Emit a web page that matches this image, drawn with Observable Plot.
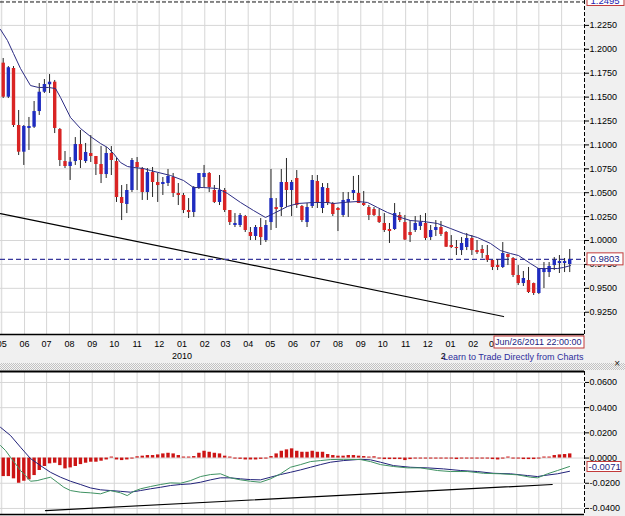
<!DOCTYPE html>
<html><head><meta charset="utf-8">
<script src="https://cdn.jsdelivr.net/npm/d3@7"></script>
<script src="https://cdn.jsdelivr.net/npm/@observablehq/plot@0.6"></script>
<style>
html,body{margin:0;padding:0;background:#f0f0f0;width:625px;height:516px;overflow:hidden;font-family:"Liberation Sans",Arial,sans-serif;}
#top svg,#bottom svg{display:block;}
#sep{height:7px;position:relative;background-image:repeating-conic-gradient(#c2c2c2 0 25%, #f4f4f4 0 50%);background-size:2px 2px;}
#sep span{position:absolute;right:5px;top:-5px;font-size:10px;line-height:12px;color:#222;}
</style></head><body>
<div id="top"></div><div id="sep"><span>×</span></div><div id="bottom"></div>
<script>
// ---------- data ----------
const startWeek = "2009-05-03";           // first weekly candle
const open = [1.1855,1.1499,1.1799,1.1203,1.0924,1.1172,1.1185,1.1349,1.1551,1.1629,
1.1656,1.1161,1.0826,1.0774,1.0826,1.1004,1.0826,1.0910,1.0879,1.0795,
1.0690,1.0910,1.0826,1.0450,1.0377,1.0523,1.0816,1.0753,1.0502,1.0711,
1.0607,1.0586,1.0596,1.0659,1.0492,1.0471,1.0314,1.0293,1.0554,1.0659,
1.0701,1.0523,1.0398,1.0523,1.0314,1.0157,1.0157,1.0251,1.0084,1.0042,
1.0136,1.0000,1.0188,1.0345,1.0345,1.0607,1.0523,1.0649,1.0356,1.0188,
1.0356,1.0617,1.0335,1.0544,1.0387,1.0335,1.0262,1.0398,1.0492,1.0492,
1.0387,1.0345,1.0324,1.0251,1.0178,1.0115,1.0115,1.0262,1.0188,1.0084,
1.0105,1.0147,1.0178,1.0031,1.0105,1.0136,1.0084,0.9948,0.9927,0.9895,
0.9927,1.0021,0.9895,0.9906,0.9843,0.9791,0.9738,0.9718,0.9854,0.9812,
0.9634,0.9550,0.9582,0.9550,0.9446,0.9665,0.9665,0.9738,0.9759,0.9759,
0.9749];
const high = [1.1904,1.1820,1.1820,1.1360,1.1203,1.1287,1.1454,1.1642,1.1684,1.1736,
1.1674,1.1172,1.0931,1.0868,1.1077,1.1151,1.1015,1.1098,1.0879,1.0983,
1.0973,1.0983,1.0858,1.0575,1.0586,1.0858,1.0868,1.0764,1.0753,1.0764,
1.0701,1.0659,1.0743,1.0701,1.0596,1.0492,1.0439,1.0565,1.0701,1.0785,
1.0711,1.0575,1.0680,1.0544,1.0314,1.0282,1.0282,1.0262,1.0136,1.0157,
1.0230,1.0209,1.0743,1.0439,1.0743,1.0858,1.0628,1.0732,1.0366,1.0387,
1.0680,1.0680,1.0596,1.0596,1.0398,1.0345,1.0502,1.0502,1.0670,1.0680,
1.0513,1.0366,1.0345,1.0324,1.0282,1.0178,1.0387,1.0293,1.0262,1.0209,
1.0251,1.0262,1.0282,1.0157,1.0209,1.0199,1.0094,1.0052,1.0000,1.0031,
1.0073,1.0052,1.0000,0.9948,0.9948,0.9795,0.9801,0.9979,0.9858,0.9822,
0.9738,0.9676,0.9718,0.9555,0.9707,0.9770,0.9770,0.9822,0.9843,0.9812,
0.9906];
const low = [1.1485,1.1485,1.1182,1.0889,1.0785,1.0942,1.1172,1.1308,1.1538,1.1538,
1.1119,1.0774,1.0753,1.0628,1.0785,1.0753,1.0806,1.0816,1.0680,1.0596,
1.0649,1.0680,1.0398,1.0209,1.0282,1.0502,1.0523,1.0419,1.0419,1.0450,
1.0398,1.0471,1.0565,1.0450,1.0366,1.0282,1.0230,1.0241,1.0534,1.0544,
1.0502,1.0387,1.0366,1.0293,1.0157,1.0136,1.0136,1.0084,1.0000,1.0000,
0.9948,0.9979,1.0105,1.0126,1.0251,1.0345,1.0251,1.0335,1.0188,1.0136,
1.0335,1.0335,1.0282,1.0366,1.0251,1.0094,1.0241,1.0241,1.0419,1.0387,
1.0356,1.0209,1.0251,1.0178,1.0084,0.9969,1.0105,1.0188,1.0000,0.9979,
1.0084,1.0105,1.0000,1.0000,1.0042,1.0042,0.9927,0.9916,0.9843,0.9843,
0.9895,0.9843,0.9854,0.9812,0.9770,0.9686,0.9686,0.9707,0.9738,0.9613,
0.9529,0.9519,0.9446,0.9425,0.9435,0.9498,0.9613,0.9686,0.9655,0.9665,
0.9665];
const close = [1.1499,1.1807,1.1203,1.0924,1.1193,1.1193,1.1349,1.1551,1.1632,1.1656,
1.1172,1.0837,1.0774,1.0819,1.1004,1.0837,1.0921,1.0879,1.0795,1.0690,
1.0910,1.0837,1.0450,1.0387,1.0523,1.0837,1.0764,1.0502,1.0711,1.0607,
1.0575,1.0607,1.0670,1.0492,1.0471,1.0314,1.0293,1.0554,1.0701,1.0701,
1.0554,1.0398,1.0523,1.0314,1.0188,1.0178,1.0262,1.0105,1.0042,1.0136,
1.0031,1.0157,1.0439,1.0324,1.0607,1.0523,1.0607,1.0366,1.0209,1.0345,
1.0628,1.0387,1.0554,1.0387,1.0272,1.0314,1.0419,1.0429,1.0523,1.0387,
1.0366,1.0262,1.0262,1.0188,1.0105,1.0094,1.0282,1.0209,1.0005,1.0052,
1.0178,1.0188,1.0021,1.0105,1.0136,1.0063,0.9930,0.9927,0.9916,0.9969,
1.0021,0.9895,0.9874,0.9864,0.9791,0.9718,0.9718,0.9864,0.9822,0.9634,
0.9550,0.9603,0.9456,0.9446,0.9707,0.9707,0.9728,0.9791,0.9780,0.9780,
0.9801];
// moving average (week offset, price)
const maWeek = [-0.52,0.83,2.0,3.36,5.30,6.85,8.80,10.16,11.13,13.07,15.01,16.95,18.89,20.25,21.42,22.78,24.14,25.30,27.24,28.60,32.49,35.01,36.95,38.89,41.61,43.55,46.08,48.60,50.93,52.49,55.20,57.15,60.25,62.97,64.14,66.08,68.80,70.74,72.68,74.62,77.15,79.09,81.61,84.33,86.85,89.38,92.10,94.62,96.56,98.50,100.06,102.39,103.94,105.30,107.63,108.80,110.16];
const maPrice = [1.2207,1.2092,1.1956,1.1799,1.1621,1.1601,1.1601,1.1590,1.1496,1.1287,1.1172,1.1088,1.1015,1.0973,1.0910,1.0816,1.0774,1.0764,1.0753,1.0732,1.0680,1.0628,1.0554,1.0554,1.0544,1.0492,1.0398,1.0314,1.0241,1.0282,1.0356,1.0387,1.0398,1.0398,1.0387,1.0398,1.0408,1.0398,1.0345,1.0293,1.0241,1.0209,1.0199,1.0178,1.0126,1.0073,1.0031,0.9969,0.9895,0.9864,0.9843,0.9759,0.9707,0.9707,0.9707,0.9718,0.9738];
const trendWeek = [-0.52, 97.15];
const trendPrice = [1.0282, 0.9205];
const topLevel = 1.2495;
const lastPrice = 0.9803;
const cursorLabel = "Jun/26/2011 22:00:00";
const watermark = "Learn to Trade Directly from Charts";
const priceTicks = [0.925,0.95,0.975,1.0,1.025,1.05,1.075,1.1,1.125,1.15,1.175,1.2,1.225];
const monthTicks = ["2009-05","2009-06","2009-07","2009-08","2009-09","2009-10","2009-11","2009-12",
"2010-01","2010-02","2010-03","2010-04","2010-05","2010-06","2010-07","2010-08","2010-09","2010-10","2010-11","2010-12",
"2011-01","2011-02","2011-03","2011-04","2011-05","2011-06"];
// month labels that are not hidden behind the cursor date box
const monthLabelTicks = monthTicks.slice(0, 23);
const yearTicks = ["2010-01","2011-01"];
// MACD panel
const histValue = [-0.0147,-0.0147,-0.0165,-0.0200,-0.0184,-0.0173,-0.0139,-0.0099,-0.0067,-0.0046,
-0.0041,-0.0060,-0.0086,-0.0078,-0.0067,-0.0052,-0.0041,-0.0033,-0.0033,-0.0025,
-0.0015,0.0008,-0.0015,-0.0020,-0.0015,-0.0008,0.0010,0.0015,0.0020,0.0020,
0.0025,0.0033,0.0038,0.0033,0.0020,0.0008,0.0008,0.0012,0.0038,0.0054,
0.0046,0.0038,0.0033,0.0015,0.0008,-0.0008,-0.0010,-0.0015,-0.0015,-0.0015,
-0.0010,-0.0008,0.0012,0.0033,0.0054,0.0065,0.0073,0.0054,0.0046,0.0046,
0.0054,0.0046,0.0046,0.0028,0.0020,0.0015,0.0015,0.0020,0.0020,0.0015,
0.0012,0.0008,0.0010,-0.0008,-0.0012,-0.0012,-0.0012,-0.0012,-0.0020,-0.0012,
-0.0008,-0.0008,-0.0008,-0.0008,-0.0008,-0.0008,-0.0008,-0.0008,-0.0012,-0.0008,
-0.0008,-0.0008,-0.0008,-0.0008,-0.0008,-0.0012,-0.0015,-0.0008,0.0008,-0.0008,
-0.0008,-0.0012,-0.0012,-0.0012,-0.0008,0.0008,0.0008,0.0020,0.0025,0.0028,
0.0033];
const macdWeek = [-0.52,0.45,1.42,2.39,3.36,4.33,5.30,6.60,7.88,9.18,10.49,11.77,13.07,15.01,16.95,18.89,20.83,22.78,24.08,25.36,26.66,28.60,30.54,32.49,34.43,36.37,38.31,40.25,42.19,44.14,46.08,48.02,49.96,51.90,53.84,55.79,57.73,59.67,61.61,63.55,66.08,69.38,71.32,73.26,75.79,78.50,81.03,84.33,86.85,90.16,93.26,96.56,99.86,102.39,103.75,105.69,107.63,109.96];
const macdValue = [0.0099,0.0060,0.0006,-0.0046,-0.0099,-0.0139,-0.0184,-0.0179,-0.0165,-0.0152,-0.0192,-0.0232,-0.0258,-0.0271,-0.0276,-0.0284,-0.0258,-0.0276,-0.0298,-0.0264,-0.0244,-0.0226,-0.0210,-0.0197,-0.0200,-0.0179,-0.0147,-0.0131,-0.0125,-0.0157,-0.0173,-0.0184,-0.0192,-0.0165,-0.0125,-0.0073,-0.0052,-0.0028,-0.0020,-0.0012,-0.0010,-0.0012,-0.0028,-0.0052,-0.0067,-0.0078,-0.0078,-0.0099,-0.0107,-0.0107,-0.0121,-0.0125,-0.0133,-0.0152,-0.0157,-0.0125,-0.0099,-0.0067];
const signalWeek = [-0.52,1.42,3.36,5.30,7.24,9.18,11.13,13.07,15.01,16.95,18.89,20.83,22.78,24.72,26.66,28.60,30.54,32.49,34.43,36.37,38.31,40.25,42.19,44.14,46.08,48.02,49.96,51.90,53.84,55.79,57.73,59.67,61.61,63.55,66.08,69.38,71.32,73.26,75.79,79.09,82.39,85.50,88.80,92.10,95.21,98.50,101.80,103.75,104.91,107.63,109.96];
const signalValue = [0.0244,0.0179,0.0086,-0.0004,-0.0060,-0.0113,-0.0152,-0.0184,-0.0210,-0.0237,-0.0252,-0.0258,-0.0264,-0.0271,-0.0258,-0.0244,-0.0232,-0.0218,-0.0210,-0.0205,-0.0192,-0.0173,-0.0157,-0.0157,-0.0165,-0.0171,-0.0173,-0.0152,-0.0131,-0.0113,-0.0094,-0.0073,-0.0052,-0.0033,-0.0020,-0.0010,-0.0014,-0.0033,-0.0060,-0.0073,-0.0078,-0.0086,-0.0099,-0.0107,-0.0121,-0.0125,-0.0139,-0.0147,-0.0139,-0.0125,-0.0105];
const macdTrendWeek = [8.21, 106.6];
const macdTrendValue = [-0.0417, -0.0210];
const macdTicks = [-0.04,-0.02,0,0.02,0.04,0.06];
const macdLast = -0.0071;

// ---------- derived tables ----------
const weekOf = s => (Date.parse(s) - Date.parse(startWeek)) / 6048e5;
const candles = open.map((o, i) => ({w: i, open: o, high: high[i], low: low[i], close: close[i]}));
const monthW = monthTicks.map(m => weekOf(m + "-01"));
const months = monthLabelTicks.map(m => ({w: weekOf(m + "-01"), label: m.slice(5)}));
const years = yearTicks.map(m => ({w: weekOf(m + "-01"), label: m.slice(0, 4)}));
const ma = maWeek.map((w, i) => ({w, p: maPrice[i]}));
const trend = trendWeek.map((w, i) => ({w, p: trendPrice[i]}));
const hist = histValue.map((v, i) => ({w: i, v}));
const macd = macdWeek.map((w, i) => ({w, v: macdValue[i]}));
const signal = signalWeek.map((w, i) => ({w, v: signalValue[i]}));
const macdTrend = macdTrendWeek.map((w, i) => ({w, v: macdTrendValue[i]}));

const xDomain = [-0.524, 112.87];
const xMax = xDomain[1];
const yP = [0.9017, 1.25105];
const yM = [-0.0448, 0.0687];
const FONT = "Liberation Sans, Arial, sans-serif";
const GRID = "#d6d6d6";
const BOXRED = "#c23a3a";
const NAVY = "#1e1e82";

const topChart = Plot.plot({
  width: 625, height: 363,
  marginLeft: 0, marginRight: 41, marginTop: 0, marginBottom: 29,
  style: {background: "transparent", fontFamily: FONT, fontSize: "9px", color: "#000"},
  x: {domain: xDomain, axis: null},
  y: {domain: yP, axis: null},
  marks: [
    Plot.frame({fill: "white", stroke: "none"}),
    Plot.gridX(monthW, {stroke: GRID, strokeOpacity: 1}),
    Plot.gridY(priceTicks, {stroke: GRID, strokeOpacity: 1}),
    Plot.ruleY([topLevel], {stroke: "#111", strokeDasharray: "4,2"}),
    Plot.line(trend, {x: "w", y: "p", stroke: "#000", strokeWidth: 1.2}),
    Plot.ruleY([lastPrice], {stroke: "#3a3a9c", strokeDasharray: "5,3", strokeWidth: 1.2}),
    Plot.ruleX(candles, {x: "w", y1: "low", y2: "high", stroke: "#262626", strokeWidth: 1}),
    Plot.ruleX(candles.filter(d => d.close < d.open), {x: "w", y1: "open", y2: "close", stroke: "#d92424", strokeWidth: 3.4}),
    Plot.ruleX(candles.filter(d => d.close >= d.open), {x: "w", y1: "open", y2: "close", stroke: "#1f2cc0", strokeWidth: 3.4}),
    Plot.line(ma, {x: "w", y: "p", stroke: "#2c2c84", strokeWidth: 1}),
    Plot.ruleY([yP[0]], {stroke: "#000", strokeWidth: 1.5}),
    Plot.ruleX([xMax], {stroke: "#000", strokeDasharray: "4,2"}),
    Plot.axisY(priceTicks, {anchor: "right", tickSize: 4, tickPadding: 1, tickFormat: d => d.toFixed(4), fontSize: 9, label: null}),
    Plot.text(months, {x: "w", text: "label", frameAnchor: "bottom", dy: 12, fontSize: 9}),
    Plot.text(years, {x: "w", text: "label", frameAnchor: "bottom", dy: 24, fontSize: 9}),
    // watermark
    Plot.rect([0], {x1: () => xMax, x2: () => xMax, y1: () => yP[0], y2: () => yP[0], insetLeft: -138, insetRight: 0, insetTop: 16, insetBottom: -29, fill: "#f0f0f0"}),
    Plot.text([watermark], {x: () => xMax, y: () => yP[0], text: d => d, dx: -1, dy: 23, textAnchor: "end", fill: "#2d2d9c", fontSize: 9}),
    // cursor date box
    Plot.rect([0], {x1: () => xMax, x2: () => xMax, y1: () => yP[0], y2: () => yP[0], insetLeft: -90, insetRight: 0, insetTop: 2, insetBottom: -14, fill: "white", stroke: BOXRED}),
    Plot.text([cursorLabel], {x: () => xMax, y: () => yP[0], text: d => d, dx: -3, dy: 8, textAnchor: "end", fill: NAVY, fontSize: 9}),
    // last price box
    Plot.rect([lastPrice], {x1: () => xMax, x2: () => xMax, y1: d => d, y2: d => d, insetLeft: 3, insetRight: -39, insetTop: -6, insetBottom: -6, fill: "white", stroke: BOXRED}),
    Plot.text([lastPrice], {x: () => xMax, y: d => d, text: d => d.toFixed(4), dx: 6, textAnchor: "start", fill: NAVY, fontSize: 9.5}),
    // top level box
    Plot.rect([topLevel], {x1: () => xMax, x2: () => xMax, y1: d => d, y2: d => d, insetLeft: 3, insetRight: -40, insetTop: -7, insetBottom: -4, fill: "white", stroke: BOXRED}),
    Plot.text([topLevel], {x: () => xMax, y: d => d, text: d => d.toFixed(4), dx: 6, dy: -1, textAnchor: "start", fill: "#2424b0", fontSize: 9.5})
  ]
});
document.getElementById("top").appendChild(topChart);

const bottomChart = Plot.plot({
  width: 625, height: 146,
  marginLeft: 0, marginRight: 41, marginTop: 1, marginBottom: 2,
  style: {background: "transparent", fontFamily: FONT, fontSize: "9px", color: "#000"},
  x: {domain: xDomain, axis: null},
  y: {domain: yM, axis: null},
  marks: [
    Plot.frame({fill: "white", stroke: "none"}),
    Plot.gridX(monthW, {stroke: GRID, strokeOpacity: 1}),
    Plot.gridY(macdTicks, {stroke: GRID, strokeOpacity: 1}),
    Plot.ruleX(hist, {x: "w", y1: () => 0, y2: "v", stroke: "#cc1414", strokeWidth: 3.4}),
    Plot.line(macdTrend, {x: "w", y: "v", stroke: "#000", strokeWidth: 1.2}),
    Plot.line(signal, {x: "w", y: "v", stroke: "#22227a", strokeWidth: 1}),
    Plot.line(macd, {x: "w", y: "v", stroke: "#3f9262", strokeWidth: 1}),
    Plot.ruleY([yM[1]], {stroke: "#000", strokeWidth: 2}),
    Plot.ruleY([yM[0]], {stroke: "#000", strokeWidth: 1.5}),
    Plot.ruleX([xMax], {stroke: "#000", strokeDasharray: "4,2"}),
    Plot.axisY(macdTicks, {anchor: "right", tickSize: 4, tickPadding: 1, tickFormat: d => d.toFixed(4), fontSize: 9, label: null}),
    Plot.rect([macdLast], {x1: () => xMax, x2: () => xMax, y1: d => d, y2: d => d, insetLeft: 3, insetRight: -37, insetTop: -5, insetBottom: -5, fill: "white", stroke: BOXRED}),
    Plot.text([macdLast], {x: () => xMax, y: d => d, text: d => d.toFixed(4), dx: 4, textAnchor: "start", fill: NAVY, fontSize: 9.5})
  ]
});
document.getElementById("bottom").appendChild(bottomChart);
</script></body></html>
